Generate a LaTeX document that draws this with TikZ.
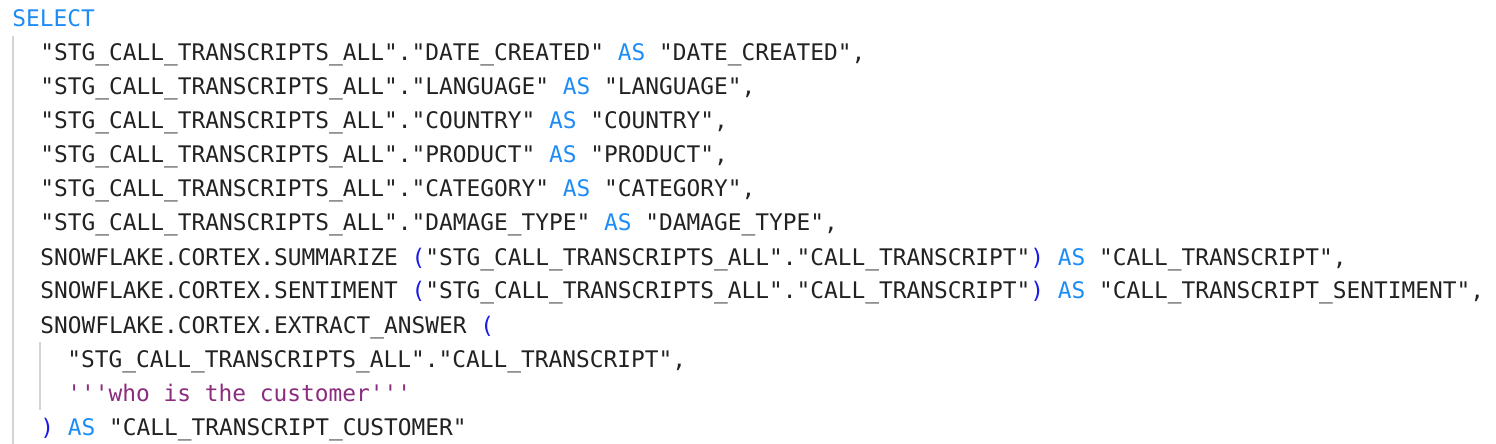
\documentclass[tikz,border=0pt]{standalone}
\usepackage{fontspec}
\setmonofont{DejaVu Sans Mono}
\definecolor{kw}{HTML}{1E8CF5}
\definecolor{par}{HTML}{1A1AE6}
\definecolor{str}{HTML}{8B2C7E}
\definecolor{txt}{HTML}{222222}
\definecolor{guide}{HTML}{D4D4D4}
\newcommand{\kw}[1]{\textcolor{kw}{#1}}
\newcommand{\pr}[1]{\textcolor{par}{#1}}
\newcommand{\stg}{"STG\_CALL\_TRANSCRIPTS\_ALL"}
\begin{document}
\begin{tikzpicture}[x=0.5pt,y=-0.5pt,code/.style={anchor=base west,inner sep=0pt,text=txt,font=\ttfamily\fontsize{11.42pt}{13pt}\selectfont}]
\useasboundingbox(0,0)rectangle(1496,444);
\draw[guide,line width=1pt](13,36)--(13,444);
\draw[guide,line width=1pt](40,342)--(40,410);
\node[code](l0)at(12,27){\kw{SELECT}};
\node[code](l1)at(40,61){\stg."DATE\_CREATED" \kw{AS} "DATE\_CREATED",};
\node[code](l2)at(40,95){\stg."LANGUAGE" \kw{AS} "LANGUAGE",};
\node[code](l3)at(40,129){\stg."COUNTRY" \kw{AS} "COUNTRY",};
\node[code](l4)at(40,163){\stg."PRODUCT" \kw{AS} "PRODUCT",};
\node[code](l5)at(40,197){\stg."CATEGORY" \kw{AS} "CATEGORY",};
\node[code](l6)at(40,231){\stg."DAMAGE\_TYPE" \kw{AS} "DAMAGE\_TYPE",};
\node[code](l7)at(40,265){SNOWFLAKE.CORTEX.SUMMARIZE \pr{(}\stg."CALL\_TRANSCRIPT"\pr{)} \kw{AS} "CALL\_TRANSCRIPT",};
\node[code](l8)at(40,299){SNOWFLAKE.CORTEX.SENTIMENT \pr{(}\stg."CALL\_TRANSCRIPT"\pr{)} \kw{AS} "CALL\_TRANSCRIPT\_SENTIMENT",};
\node[code](l9)at(40,333){SNOWFLAKE.CORTEX.EXTRACT\_ANSWER \pr{(}};
\node[code](l10)at(67,367){\stg."CALL\_TRANSCRIPT",};
\node[code](l11)at(67,401){\textcolor{str}{'''who is the customer'''}};
\node[code](l12)at(40,435){\pr{)} \kw{AS} "CALL\_TRANSCRIPT\_CUSTOMER"};
\end{tikzpicture}
\end{document}
